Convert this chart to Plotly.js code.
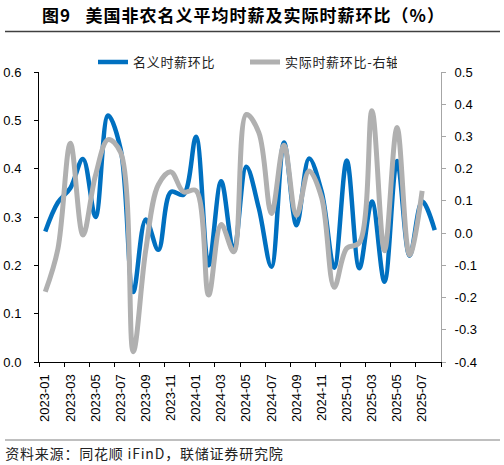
<!DOCTYPE html>
<html>
<head>
<meta charset="utf-8">
<script src="https://cdn.plot.ly/plotly-3.0.1.min.js"></script>
<style>
html,body{margin:0;padding:0;background:#fff;}
#chart{width:504px;height:465px;}
#chart .gtitle{letter-spacing:1px;}
#chart .legendtext{letter-spacing:0.7px;}
#chart .annotation-text{letter-spacing:0.8px;}
</style>
</head>
<body>
<div id="chart"></div>
<script>
// ---- data ----
var months = ["2023-01","2023-02","2023-03","2023-04","2023-05","2023-06","2023-07","2023-08",
  "2023-09","2023-10","2023-11","2023-12","2024-01","2024-02","2024-03","2024-04",
  "2024-05","2024-06","2024-07","2024-08","2024-09","2024-10","2024-11","2024-12",
  "2025-01","2025-02","2025-03","2025-04","2025-05","2025-06","2025-07","2025-08"];
var nominalMoM = [0.27,0.33,0.36,0.42,0.30,0.51,0.44,0.145,
  0.295,0.232,0.352,0.346,0.466,0.20,0.374,0.229,
  0.404,0.318,0.197,0.454,0.283,0.421,0.352,0.195,
  0.417,0.194,0.332,0.166,0.416,0.22,0.332,0.273];
var realMoM = [-0.182,-0.05,0.279,-0.006,0.18,0.29,0.25,-0.368,
  -0.052,0.15,0.19,0.128,0.132,-0.192,0.027,-0.058,
  0.368,0.312,0.061,0.273,0.055,0.193,0.11,-0.168,
  -0.047,-0.03,0.38,-0.055,0.328,-0.068,0.131,null];
var seriesNames = ["名义时薪环比","实际时薪环比-右轴"];
var leftTickVals = [0,0.1,0.2,0.3,0.4,0.5,0.6];
var leftTickText = ["0.0","0.1","0.2","0.3","0.4","0.5","0.6"];
var rightTickVals = [-0.4,-0.3,-0.2,-0.1,0,0.1,0.2,0.3,0.4,0.5];
var rightTickText = ["-0.4","-0.3","-0.2","-0.1","0.0","0.1","0.2","0.3","0.4","0.5"];
var titleText = "<b>图9\u00A0\u00A0\u00A0美国非农名义平均时薪及实际时薪环比（%）</b>";
var sourceText = "资料来源：同花顺 iFinD，联储证券研究院";

var FONT = 'Arial, "Liberation Sans", "Noto Sans CJK SC", sans-serif';

var traces = [
  {x: months, y: nominalMoM, name: seriesNames[0], type: 'scatter', mode: 'lines',
   line: {color: '#0070C0', width: 4.5, shape: 'spline', smoothing: 1}, yaxis: 'y'},
  {x: months, y: realMoM, name: seriesNames[1], type: 'scatter', mode: 'lines',
   line: {color: '#B0B0B0', width: 5, shape: 'spline', smoothing: 1}, yaxis: 'y2'}
];

var layout = {
  width: 504, height: 465,
  margin: {l: 39, r: 63, t: 72, b: 103, pad: 0},
  paper_bgcolor: '#fff', plot_bgcolor: '#fff',
  font: {family: FONT, size: 13, color: '#000'},
  title: {text: titleText, font: {family: '"Noto Sans CJK SC", sans-serif', size: 17, color: '#000'},
          xref: 'container', yref: 'container', x: 42/504, xanchor: 'left', y: 1 - 16/465, yanchor: 'middle'},
  showlegend: true,
  legend: {orientation: 'h', x: (93-39)/402, xanchor: 'left', y: 1.034, yanchor: 'middle',
           entrywidth: 107, entrywidthmode: 'pixels',
           font: {family: '"Noto Sans CJK SC", sans-serif', size: 13, color: '#222'},
           bgcolor: 'rgba(0,0,0,0)', traceorder: 'normal'},
  xaxis: {type: 'category', range: [-0.5, 31.5], tickmode: 'linear', tick0: 0, dtick: 2,
          tickson: 'boundaries', ticks: 'outside', ticklen: 4, tickcolor: '#000', tickwidth: 1,
          showline: true, linecolor: '#000', linewidth: 1, showgrid: false, zeroline: false,
          tickangle: -90, tickfont: {size: 13, color: '#000'}, ticklabelstandoff: 6, fixedrange: true},
  yaxis: {range: [0, 0.6], tickmode: 'array', tickvals: leftTickVals, ticktext: leftTickText,
          ticks: 'outside', ticklen: 4, tickcolor: '#000', showline: true, linecolor: '#000', linewidth: 1,
          showgrid: false, zeroline: false, tickfont: {size: 13, color: '#000'}, ticklabelstandoff: 10},
  yaxis2: {range: [-0.4, 0.5], overlaying: 'y', side: 'right', tickmode: 'array',
           tickvals: rightTickVals, ticktext: rightTickText,
           ticks: 'outside', ticklen: 4, tickcolor: '#A6A6A6', showline: true, linecolor: '#A6A6A6', linewidth: 1,
           showgrid: false, zeroline: false, tickfont: {size: 13, color: '#000'}, ticklabelstandoff: 6},
  shapes: [
    {type: 'line', xref: 'paper', yref: 'paper', x0: (5-39)/402, x1: (500-39)/402,
     y0: (362-31.5)/290, y1: (362-31.5)/290, line: {color: '#404040', width: 1.5}},
    {type: 'line', xref: 'paper', yref: 'paper', x0: (5-39)/402, x1: (500-39)/402,
     y0: (362-440)/290, y1: (362-440)/290, line: {color: '#808080', width: 1.2}}
  ],
  annotations: [
    {text: sourceText, xref: 'paper', yref: 'paper', x: (12-39)/402, xanchor: 'left',
     y: (362-453)/290, yanchor: 'middle', showarrow: false,
     font: {family: '"Noto Sans CJK SC", sans-serif', size: 14, color: '#222'}}
  ]
};

Plotly.newPlot('chart', traces, layout, {displayModeBar: false, staticPlot: true});
</script>
</body>
</html>
